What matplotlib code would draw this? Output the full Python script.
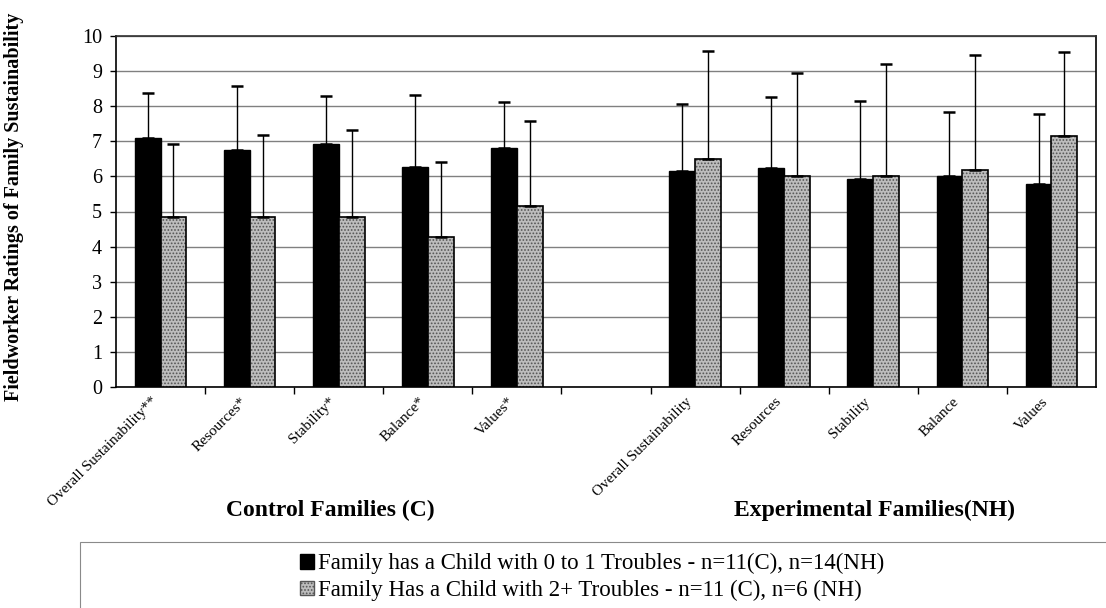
import numpy as np
import matplotlib
matplotlib.use('Agg')
import matplotlib.pyplot as plt
from matplotlib.patches import Patch, Rectangle
from matplotlib.transforms import ScaledTranslation

plt.rcParams['font.family'] = ['Liberation Serif', 'DejaVu Serif']
plt.rcParams['hatch.linewidth'] = 0.8

# Categories (blank slot separates the two family groups)
categories = ['Overall Sustainability**', 'Resources*', 'Stability*', 'Balance*', 'Values*', '',
              'Overall Sustainability', 'Resources', 'Stability', 'Balance', 'Values']

# Family has a child with 0 to 1 troubles
low_mean = [7.10, 6.75, 6.92, 6.27, 6.80, np.nan, 6.15, 6.23, 5.94, 6.01, 5.78]
low_err = [1.28, 1.83, 1.37, 2.05, 1.33, np.nan, 1.90, 2.03, 2.21, 1.82, 1.99]

# Family has a child with 2+ troubles
high_mean = [4.83, 4.83, 4.83, 4.26, 5.17, np.nan, 6.49, 6.00, 6.00, 6.17, 7.16]
high_err = [2.08, 2.35, 2.50, 2.14, 2.42, np.nan, 3.08, 2.96, 3.21, 3.30, 2.39]

y_ticks = list(range(0, 11))
group_labels = ['Control Families (C)', 'Experimental Families(NH)']
legend_labels = ['Family has a Child with 0 to 1 Troubles - n=11(C), n=14(NH)',
                 'Family Has a Child with 2+ Troubles - n=11 (C), n=6 (NH)']

fig = plt.figure(figsize=(11.06, 6.08), dpi=100)
ax = fig.add_axes([116 / 1106, 1 - 387 / 608, 980 / 1106, 351 / 608])

x = np.arange(len(categories))
w = 0.29
low = np.array(low_mean)
high = np.array(high_mean)

ax.bar(x - w / 2, low, width=w, color='black', edgecolor='black', linewidth=1, zorder=3)
# stippled gray bars: hatch layer then outline
ax.bar(x + w / 2, high, width=w, color='#bdbdbd', edgecolor='#555555', hatch='.....',
       linewidth=0, zorder=3)
ax.bar(x + w / 2, high, width=w, fill=False, edgecolor='black', linewidth=1.2, zorder=4)

zeros = np.zeros(len(x))
ax.errorbar(x - w / 2, low, yerr=[zeros, np.array(low_err)], fmt='none', ecolor='black',
            elinewidth=1, capsize=4.5, capthick=1.8, zorder=5)
ax.errorbar(x + w / 2, high, yerr=[zeros, np.array(high_err)], fmt='none', ecolor='black',
            elinewidth=1, capsize=4.5, capthick=1.8, zorder=5)

ax.set_xlim(-0.5, len(x) - 0.5)
ax.set_ylim(0, 10)
ax.set_yticks(y_ticks)
ax.tick_params(axis='y', labelsize=14.5, length=4, width=1, pad=6, direction='out')
ax.yaxis.grid(True, color='#808080', linewidth=1, zorder=0)
ax.set_axisbelow(True)

ax.set_xticks(x)
ax.set_xticklabels(categories, fontsize=11)
ax.set_xticks(np.arange(0.5, len(x) - 1), minor=True)
ax.tick_params(axis='x', which='major', length=0, pad=9)
ax.tick_params(axis='x', which='minor', length=5, width=1, direction='out')
offset = ScaledTranslation(-5 / 100, 0, fig.dpi_scale_trans)
for lbl in ax.get_xticklabels():
    lbl.set_rotation(45)
    lbl.set_rotation_mode('anchor')
    lbl.set_ha('right')
    lbl.set_va('center')
    lbl.set_transform(lbl.get_transform() + offset)

for side in ['left', 'right', 'bottom']:
    ax.spines[side].set_color('black')
    ax.spines[side].set_linewidth(1.2)
ax.spines['top'].set_color('#303030')
ax.spines['top'].set_linewidth(1.2)

fig.text(14 / 1106, 1 - 207 / 608, 'Fieldworker Ratings of Family Sustainability',
         rotation=90, ha='center', va='center', fontsize=14.5, fontweight='bold')

fig.text(330 / 1106, 1 - 510 / 608, group_labels[0], ha='center', va='center',
         fontsize=17, fontweight='bold')
fig.text(875 / 1106, 1 - 510 / 608, group_labels[1], ha='center', va='center',
         fontsize=17, fontweight='bold')

# legend box running off the figure edges
fig.patches.append(Rectangle((80 / 1106, -0.1), 1.2, (608 - 542) / 608 + 0.1,
                             transform=fig.transFigure, fill=False,
                             edgecolor='#8a8a8a', linewidth=0.8))
handles = [Patch(facecolor='black', edgecolor='black'),
           Patch(facecolor='#bdbdbd', edgecolor='#555555', hatch='.....')]
fig.legend(handles, legend_labels, loc='upper left', bbox_to_anchor=(300 / 1106, 1 - 553 / 608),
           frameon=False, fontsize=16.5, handlelength=0.62, handleheight=0.62,
           handletextpad=0.15, labelspacing=0.25, borderpad=0, borderaxespad=0)

fig.savefig('out.png', dpi=100)
